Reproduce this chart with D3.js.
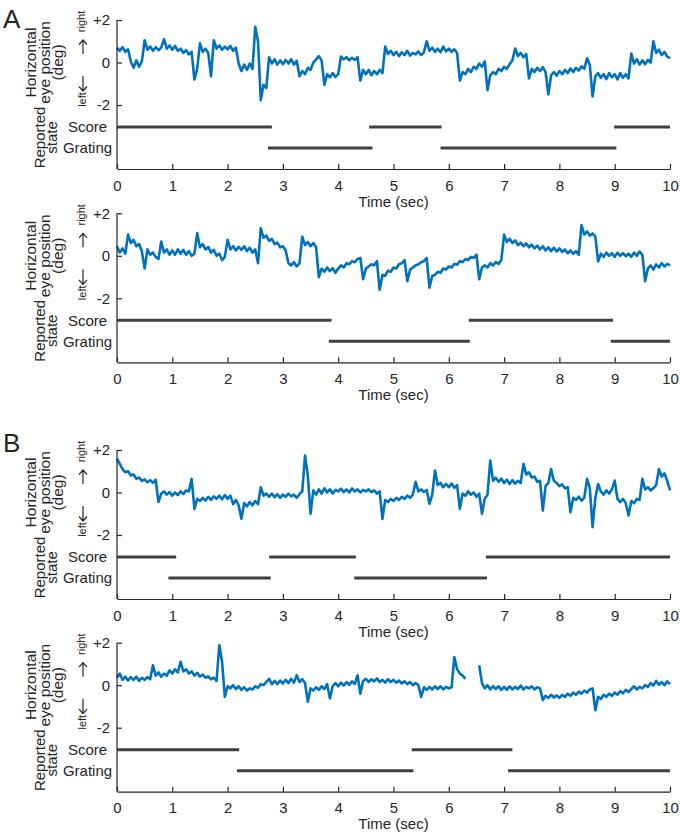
<!DOCTYPE html>
<html>
<head>
<meta charset="utf-8">
<script src="https://cdn.jsdelivr.net/npm/d3@7"></script>
<style>
  body { margin: 0; background: #fff; }
  svg text { font-family: "Liberation Sans", Arial, Helvetica, sans-serif; fill: #262626; }
</style>
</head>
<body>
<svg id="chart"></svg>
<script>
var timeStep = 0.05;

var eyeA1 = [
  0.70,0.55,0.72,0.50,0.62,0.05,-0.25,0.10,-0.20,0.05,1.05,0.60,0.75,0.55,0.72,0.58,0.70,1.10,0.65,0.80,
  0.60,0.78,0.55,0.65,0.45,0.58,0.38,0.50,-0.80,-0.30,0.90,0.50,0.65,0.45,-0.65,1.05,0.65,0.80,0.60,0.75,
  0.62,0.78,0.55,0.70,-0.05,-0.40,-0.10,-0.35,-0.05,-0.30,1.68,1.00,-1.77,-1.05,-1.20,0.25,-0.05,0.15,-0.10,0.10,
  -0.08,0.12,-0.05,0.15,-0.10,0.08,-0.65,-0.40,-0.55,-0.25,-0.35,0.00,0.15,0.30,0.10,-1.05,-0.55,-0.70,-0.50,-0.68,
  -0.55,0.28,0.15,0.25,0.10,0.22,0.12,0.25,-0.85,-0.35,-0.55,-0.35,-0.60,-0.40,-0.55,-0.35,-0.50,0.75,0.40,0.55,
  0.35,0.50,0.30,0.48,0.35,0.55,0.32,0.45,0.38,0.52,0.35,0.48,1.00,0.55,0.70,0.50,0.65,0.48,0.75,0.52,
  0.65,0.50,0.62,0.45,-0.85,-0.45,-0.55,-0.30,-0.45,-0.20,-0.30,-0.05,-0.20,0.05,-1.30,-0.60,-0.45,-0.55,-0.30,-0.40,
  -0.20,-0.30,-0.08,0.10,0.66,0.30,0.45,0.25,0.40,-0.75,-0.30,-0.45,-0.25,-0.40,-0.22,-0.45,-1.50,-0.60,-0.45,-0.62,
  -0.40,-0.55,-0.35,-0.50,-0.28,-0.45,-0.25,-0.38,-0.18,-0.30,0.20,-0.12,-1.60,-0.65,-0.50,-0.72,-0.55,-0.78,-0.50,-0.70,
  -0.55,-0.80,-0.50,-0.72,-0.55,-0.75,0.42,-0.05,0.15,-0.10,0.10,-0.08,0.12,0.00,1.00,0.45,0.60,0.35,0.50,0.28,
  0.20
];
var eyeA2 = [
  0.45,0.15,0.35,0.10,1.00,0.60,0.75,0.45,0.55,0.20,-0.60,0.30,0.05,0.15,-0.05,-0.15,0.67,0.15,0.30,0.05,
  0.25,0.05,0.30,0.10,0.28,0.05,0.22,0.00,0.10,1.07,0.40,0.55,0.30,0.42,0.15,0.28,0.00,0.10,-0.20,-0.05,
  0.75,0.30,0.45,0.25,0.42,0.28,0.45,0.22,0.38,0.15,0.30,-0.35,1.30,0.85,0.95,0.70,0.80,0.55,0.62,0.40,
  0.45,0.25,-0.35,-0.45,-0.30,-0.50,-0.35,0.90,0.50,0.65,0.45,0.60,0.40,-1.00,-0.60,-0.75,-0.55,-0.72,-0.58,-0.80,
  -0.60,-0.45,-0.55,-0.35,-0.40,-0.25,-0.30,-0.15,-0.10,-1.10,-0.60,-0.50,-0.40,-0.45,-0.25,-1.60,-0.90,-0.95,-0.70,-0.75,
  -0.55,-0.60,-0.40,-0.35,-0.20,-1.20,-0.65,-0.55,-0.45,-0.40,-0.30,-0.25,-0.10,-1.50,-0.95,-0.90,-0.75,-0.80,-0.60,-0.65,
  -0.50,-0.55,-0.38,-0.42,-0.25,-0.30,-0.15,-0.20,-0.05,-0.10,0.05,-1.10,-0.55,-0.45,-0.55,-0.35,-0.45,-0.30,-0.38,-0.20,
  1.00,0.65,0.80,0.60,0.72,0.50,0.62,0.45,0.58,0.40,0.52,0.35,0.48,0.30,0.45,0.25,0.40,0.22,0.38,0.20,
  0.35,0.18,0.30,0.12,0.25,0.10,0.22,0.05,1.45,1.00,1.15,0.95,1.05,0.90,-0.27,0.10,-0.05,0.15,0.00,0.12,
  -0.05,0.15,0.00,0.12,-0.02,0.10,-0.05,0.15,0.00,0.20,0.05,-1.20,-0.60,-0.45,-0.65,-0.40,-0.55,-0.35,-0.50,-0.38,
  -0.45
];
var eyeB1 = [
  1.60,1.35,1.10,0.95,1.00,0.80,0.85,0.65,0.70,0.55,0.62,0.48,0.58,0.45,0.60,-0.45,-0.05,0.05,-0.10,0.02,
  -0.15,0.00,-0.12,0.05,-0.08,0.10,0.05,0.64,-0.77,-0.30,-0.40,-0.25,-0.38,-0.20,-0.35,-0.18,-0.30,-0.15,-0.32,-0.12,
  -0.30,-0.15,-0.55,-0.35,-0.60,-1.24,-0.50,-0.65,-0.45,-0.60,-0.40,-0.55,0.25,-0.15,-0.05,-0.20,-0.05,-0.22,-0.08,-0.25,
  -0.10,-0.20,-0.05,-0.18,-0.10,-0.25,-0.08,0.05,1.74,0.80,-1.00,0.10,-0.10,0.15,-0.05,0.20,0.00,0.15,-0.05,0.12,
  0.05,0.18,0.02,0.15,0.00,0.20,0.05,0.15,0.00,0.12,0.05,0.15,0.02,0.10,-0.05,0.05,-1.24,-0.35,-0.45,-0.30,
  -0.40,-0.25,-0.35,-0.20,-0.30,-0.15,-0.25,-0.10,0.50,0.05,0.15,0.02,0.12,-0.53,-0.10,1.03,0.35,0.45,0.25,0.40,
  0.25,0.42,0.22,0.35,-0.77,-0.05,-0.15,0.05,-0.10,0.00,-0.20,-0.05,-1.00,-0.30,-0.10,1.50,0.55,0.70,0.50,0.65,
  0.45,0.60,0.40,0.58,0.42,0.55,0.45,1.35,0.85,0.95,0.70,0.75,0.50,0.55,-0.85,0.30,0.45,1.10,0.55,0.45,
  0.30,0.38,0.20,0.25,-0.93,-0.25,-0.35,-0.20,-0.38,-0.25,0.64,0.20,-1.63,-0.25,0.40,0.05,-0.10,0.10,-0.05,0.15,
  0.56,-0.30,-0.45,-0.30,-0.50,-1.08,-0.40,-0.50,-0.30,-0.35,0.64,0.15,0.25,0.10,0.20,0.35,1.10,0.75,0.90,0.55,
  0.10
];
var eyeB2 = [
  0.35,0.55,0.25,0.40,0.22,0.38,0.25,0.40,0.20,0.35,0.25,0.38,0.28,0.94,0.45,0.60,0.40,0.55,0.45,0.70,
  0.55,0.75,0.60,1.10,0.65,0.75,0.55,0.65,0.45,0.58,0.40,0.50,0.35,0.42,0.28,0.35,0.20,1.88,1.10,-0.55,
  -0.05,-0.15,0.00,-0.18,-0.05,-0.22,-0.10,-0.25,-0.15,-0.20,-0.05,-0.12,0.05,0.00,0.15,0.30,0.05,0.20,0.05,0.22,
  0.08,0.25,0.10,0.30,0.12,0.47,0.15,0.28,0.10,-0.78,-0.15,-0.25,-0.10,-0.22,-0.05,-0.18,0.05,-0.62,-0.05,0.10,
  -0.05,0.12,-0.02,0.15,0.02,0.18,0.05,0.47,-0.40,0.20,0.30,0.15,0.28,0.18,0.32,0.15,0.25,0.12,0.28,0.15,
  0.25,0.12,0.22,0.08,0.18,0.05,0.15,0.00,0.10,0.00,-0.55,-0.10,-0.22,-0.08,-0.20,-0.05,-0.18,-0.05,-0.20,-0.08,
  -0.15,-0.10,1.33,0.75,0.55,0.45,0.30,null,null,null,null,0.94,0.10,-0.15,0.00,-0.20,-0.05,-0.18,-0.05,-0.22,
  -0.08,-0.22,-0.05,-0.20,-0.08,-0.18,-0.02,-0.20,-0.08,-0.15,-0.05,-0.20,-0.10,-0.15,-0.70,-0.50,-0.60,-0.45,-0.58,-0.48,
  -0.60,-0.45,-0.55,-0.40,-0.50,-0.35,-0.45,-0.30,-0.40,-0.25,-0.35,-0.20,-0.15,-1.18,-0.55,-0.65,-0.45,-0.55,-0.40,-0.50,
  -0.35,-0.45,-0.28,-0.38,-0.22,-0.32,-0.18,-0.05,-0.20,-0.08,-0.15,0.00,-0.08,0.10,-0.02,0.20,0.02,0.15,0.00,0.18,
  0.05
];

// reported state intervals [start, end] in seconds
var scoreA1 = [[0, 2.80], [4.56, 5.87], [8.99, 10]];
var gratingA1 = [[2.73, 4.62], [5.85, 9.03]];
var scoreA2 = [[0, 3.88], [6.36, 8.97]];
var gratingA2 = [[3.83, 6.38], [8.93, 10]];
var scoreB1 = [[0, 1.07], [2.75, 4.32], [6.67, 10]];
var gratingB1 = [[0.93, 2.78], [4.29, 6.69]];
var scoreB2 = [[0, 2.21], [5.33, 7.15]];
var gratingB2 = [[2.17, 5.36], [7.07, 10]];

var states = ["Score", "Grating"];
var xTicks = [0, 1, 2, 3, 4, 5, 6, 7, 8, 9, 10];
var yTicks = [-2, 0, 2];

var width = 680, height = 833;
var svg = d3.select("#chart").attr("width", width).attr("height", height);

var xScale = d3.scaleLinear().domain([0, 10]).range([117, 670]);

var panels = [
  {top: 20, eye: eyeA1, score: scoreA1, grating: gratingA1, letter: "A", letterY: 28},
  {top: 213.3, eye: eyeA2, score: scoreA2, grating: gratingA2},
  {top: 450, eye: eyeB1, score: scoreB1, grating: gratingB1, letter: "B", letterY: 452},
  {top: 642.7, eye: eyeB2, score: scoreB2, grating: gratingB2}
];

var rotText = function(g, x, y, txt, size)
{
  return g.append("text")
    .attr("transform", "translate(" + x + "," + y + ") rotate(-90)")
    .attr("text-anchor", "middle")
    .style("font-size", size + "px")
    .text(txt);
}

// small vertical arrow, tip at y1
var drawArrow = function(g, x, y0, y1)
{
  var dir = y1 < y0 ? 1 : -1;
  g.append("path")
    .attr("d", "M" + x + "," + y0 + "V" + y1 +
               "M" + (x - 4) + "," + (y1 + dir * 4.5) + "L" + x + "," + y1 + "L" + (x + 4) + "," + (y1 + dir * 4.5))
    .attr("fill", "none")
    .attr("stroke", "#262626")
    .attr("stroke-width", 1.2);
}

var drawPanel = function(p)
{
  var g = svg.append("g");
  var yScale = d3.scaleLinear().domain([-2, 2]).range([p.top + 85, p.top]);
  var rowScale = d3.scalePoint().domain(states).range([p.top + 107, p.top + 128]);
  var axisY = p.top + 149;

  // eye trace
  var line = d3.line()
    .defined(function(d) { return d.v !== null; })
    .x(function(d) { return xScale(d.t); })
    .y(function(d) { return yScale(d.v); });

  g.append("path")
    .datum(p.eye.map(function(v, i) { return {t: i * timeStep, v: v}; }))
    .attr("d", line)
    .attr("fill", "none")
    .attr("stroke", "#0072BD")
    .attr("stroke-width", 2.6)
    .attr("stroke-linejoin", "round");

  // reported state bars
  var bars = [];
  p.score.forEach(function(s) { bars.push({state: "Score", a: s[0], b: s[1]}); });
  p.grating.forEach(function(s) { bars.push({state: "Grating", a: s[0], b: s[1]}); });
  g.selectAll(".bar")
    .data(bars)
    .enter()
    .append("line")
    .attr("x1", function(d) { return xScale(d.a); })
    .attr("x2", function(d) { return xScale(d.b); })
    .attr("y1", function(d) { return rowScale(d.state); })
    .attr("y2", function(d) { return rowScale(d.state); })
    .attr("stroke", "#404040")
    .attr("stroke-width", 3);

  // axes
  var yAxis = d3.axisLeft(yScale)
    .tickValues(yTicks)
    .tickFormat(function(d) { return d > 0 ? "+" + d : d; })
    .tickSizeInner(-5).tickSizeOuter(0).tickPadding(7);
  var ya = g.append("g").attr("transform", "translate(117,0)").call(yAxis);
  ya.select(".domain").remove();

  var xAxis = d3.axisBottom(xScale)
    .tickValues(xTicks)
    .tickSizeInner(-5).tickSizeOuter(0).tickPadding(11);
  var xa = g.append("g").attr("transform", "translate(0," + axisY + ")").call(xAxis);

  [ya, xa].forEach(function(a) {
    a.selectAll("text").style("font-size", "15px").style("font-family", null).attr("fill", "#262626");
    a.selectAll("line, path").attr("stroke", "#262626").attr("stroke-width", 1.2);
  });

  g.append("line")
    .attr("x1", 117).attr("x2", 117)
    .attr("y1", p.top).attr("y2", axisY)
    .attr("stroke", "#262626").attr("stroke-width", 1.2);

  g.append("text")
    .attr("x", xScale(5)).attr("y", axisY + 37.5)
    .attr("text-anchor", "middle")
    .style("font-size", "15px")
    .text("Time (sec)");

  // state labels
  g.selectAll(".state")
    .data(states)
    .enter()
    .append("text")
    .attr("x", 87.5)
    .attr("y", function(d) { return rowScale(d); })
    .attr("dy", "0.36em")
    .attr("text-anchor", "middle")
    .style("font-size", "15px")
    .text(function(d) { return d; });

  // y labels
  var midY = p.top + 42.5;
  rotText(g, 36, midY, "Horizontal", 15.5);
  rotText(g, 49.5, midY, "eye position", 15.5);
  rotText(g, 63, midY, "(deg)", 15.5);
  rotText(g, 85, p.top + 1.5, "right", 11);
  drawArrow(g, 83, p.top + 34, p.top + 20);
  drawArrow(g, 83, p.top + 56, p.top + 71);
  rotText(g, 86, p.top + 79.5, "left", 11);
  rotText(g, 45, p.top + 117.5, "Reported", 15);
  rotText(g, 57, p.top + 117.5, "state", 15);

  if (p.letter) {
    g.append("text")
      .attr("x", 3).attr("y", p.letterY)
      .style("font-size", "26px")
      .text(p.letter);
  }
}

panels.forEach(drawPanel);
</script>
</body>
</html>
